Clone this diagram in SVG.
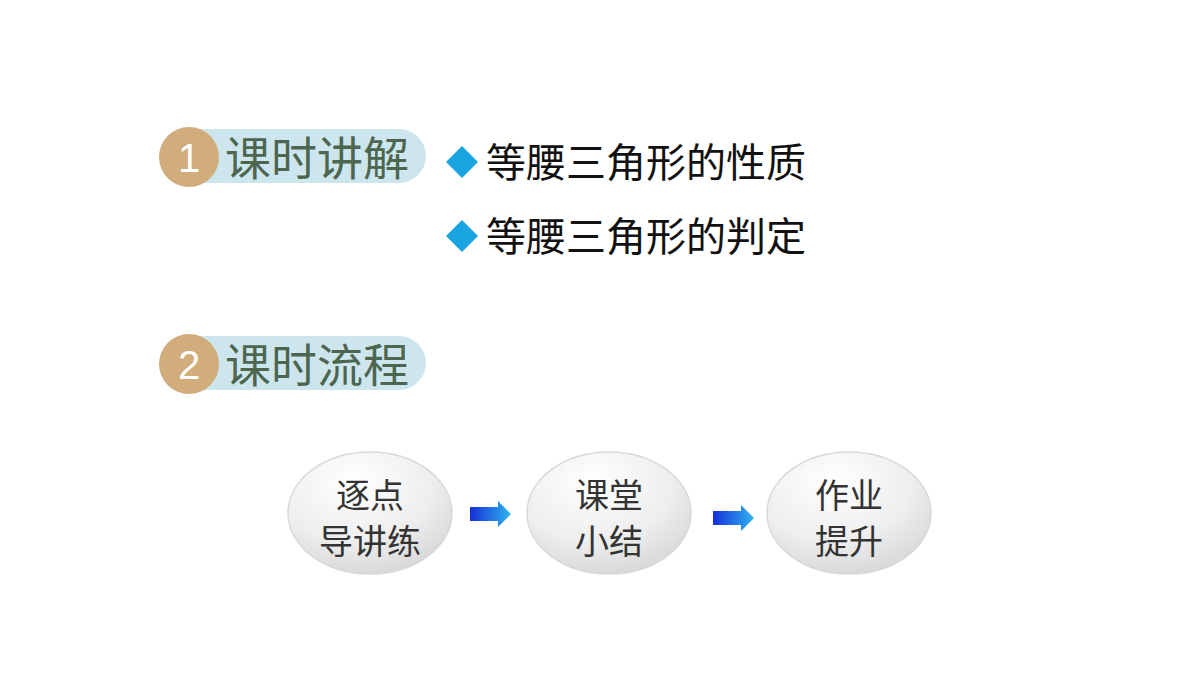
<svg xmlns="http://www.w3.org/2000/svg" width="1200" height="675" viewBox="0 0 1200 675">
<style>
.pill{fill:#cde6ee}
.num{fill:#d2ad7c}
.nt{font-family:"Liberation Sans",sans-serif;font-size:40px;fill:#fff;text-anchor:middle}
.ht{font-family:"Noto Sans CJK SC",sans-serif;font-size:46px;fill:#4d6650}
.bt{font-family:"Noto Sans CJK SC",sans-serif;font-size:40px;fill:#111}
.bul{fill:#1aa4e0}
.ct{font-family:"Noto Sans CJK SC",sans-serif;font-size:34px;fill:#333;text-anchor:middle}
.node{fill:url(#g);stroke:#d8d8d8;stroke-width:1.5}
</style>
<defs>
<radialGradient id="g" cx="0.4" cy="0.25" r="0.8">
<stop offset="0" stop-color="#ffffff"/><stop offset="0.6" stop-color="#eeeeee"/><stop offset="1" stop-color="#d6d6d6"/>
</radialGradient>
<linearGradient id="a" x1="0" x2="1"><stop offset="0" stop-color="#1530d8"/><stop offset="1" stop-color="#30b4ee"/></linearGradient>
</defs>
<rect width="1200" height="675" fill="#fff"/>
<g id="h1">
<rect class="pill" x="170" y="129" width="256" height="54" rx="27"/>
<circle class="num" cx="189" cy="157" r="30"/>
<text class="nt" x="189" y="172">1</text>
<text class="ht" x="225" y="175">课时讲解</text>
</g>
<g id="b1"><path class="bul" d="M462 146 L478 162 L462 178 L446 162Z"/><text class="bt" x="486" y="177">等腰三角形的性质</text></g>
<g id="b2"><path class="bul" d="M462 220 L478 236 L462 252 L446 236Z"/><text class="bt" x="486" y="251">等腰三角形的判定</text></g>
<g id="h2">
<rect class="pill" x="170" y="336" width="256" height="54" rx="27"/>
<circle class="num" cx="189" cy="364" r="30"/>
<text class="nt" x="189" y="379">2</text>
<text class="ht" x="225" y="382">课时流程</text>
</g>
<g id="n1"><ellipse class="node" cx="370" cy="513" rx="82" ry="61"/><text class="ct" x="370" y="508">逐点</text><text class="ct" x="370" y="554">导讲练</text></g>
<g id="n2"><ellipse class="node" cx="609" cy="513" rx="82" ry="61"/><text class="ct" x="609" y="508">课堂</text><text class="ct" x="609" y="554">小结</text></g>
<g id="n3"><ellipse class="node" cx="849" cy="513" rx="82" ry="61"/><text class="ct" x="849" y="508">作业</text><text class="ct" x="849" y="554">提升</text></g>
<g id="connectors">
<path fill="url(#a)" d="M470 507 H498 V501 L511 514 L498 527 V521 H470Z"/>
<path fill="url(#a)" d="M713 511 H741 V505 L754 518 L741 531 V525 H713Z"/>
</g>
</svg>
